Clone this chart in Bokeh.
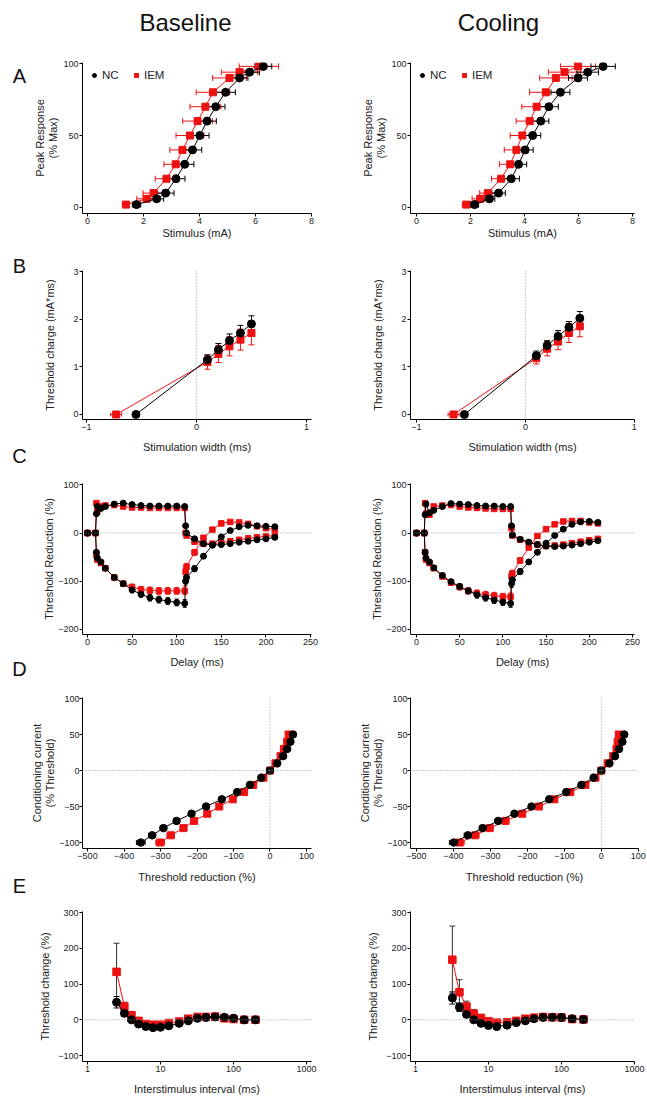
from bokeh.plotting import figure
from bokeh.models import (Range1d, FixedTicker, Span, Whisker, TeeHead, ColumnDataSource,
                          Legend, LegendItem)
from bokeh.layouts import column, row
from bokeh.embed import file_html
from bokeh.resources import INLINE
from bokeh.core.properties import value

FONT = "Liberation Sans"
RED = "#ee1111"
BLK = "#000000"
TXT = "#222222"

# ---------------- data ----------------
# A: stimulus-response
a_levels = [2, 6, 10, 20, 30, 40, 50, 60, 70, 80, 90, 94, 98]
a_base_nc_x = [1.75, 2.47, 2.79, 3.16, 3.47, 3.75, 4.01, 4.27, 4.58, 4.93, 5.43, 5.79, 6.28]
a_base_nc_err = [0.15, 0.25, 0.3, 0.32, 0.33, 0.33, 0.33, 0.33, 0.33, 0.35, 0.3, 0.35, 0.3]
a_base_iem_x = [1.37, 2.11, 2.36, 2.82, 3.15, 3.39, 3.66, 3.93, 4.21, 4.48, 5.07, 5.43, 6.12]
a_base_iem_err = [0.1, 0.35, 0.38, 0.4, 0.42, 0.45, 0.5, 0.53, 0.55, 0.6, 0.6, 0.65, 0.7]
a_cool_nc_x = [2.15, 2.70, 3.04, 3.51, 3.78, 4.02, 4.30, 4.60, 4.90, 5.33, 5.98, 6.34, 6.91]
a_cool_nc_err = [0.15, 0.2, 0.25, 0.3, 0.3, 0.3, 0.3, 0.3, 0.35, 0.35, 0.35, 0.4, 0.45]
a_cool_iem_x = [1.85, 2.36, 2.64, 3.13, 3.47, 3.70, 3.92, 4.19, 4.45, 4.79, 5.16, 5.48, 5.98]
a_cool_iem_err = [0.15, 0.3, 0.3, 0.35, 0.4, 0.45, 0.45, 0.5, 0.55, 0.6, 0.6, 0.6, 0.65]

# B: strength-duration (intercept first, then widths 0.1..0.5)
b_width = [0.1, 0.2, 0.3, 0.4, 0.5]
b_base_nc_icpt = -0.55
b_base_nc_q = [1.15, 1.36, 1.55, 1.71, 1.90]
b_base_nc_err = [0.10, 0.13, 0.14, 0.16, 0.17]
b_base_iem_icpt = -0.73
b_base_iem_q = [1.10, 1.27, 1.43, 1.57, 1.71]
b_base_iem_err = [0.15, 0.18, 0.20, 0.22, 0.25]
b_cool_nc_icpt = -0.56
b_cool_nc_q = [1.23, 1.45, 1.64, 1.83, 2.02]
b_cool_nc_err = [0.10, 0.10, 0.12, 0.12, 0.14]
b_cool_iem_icpt = -0.66
b_cool_iem_q = [1.18, 1.38, 1.53, 1.71, 1.85]
b_cool_iem_err = [0.12, 0.15, 0.17, 0.20, 0.22]
b_icpt_err = [0.05]

# C: threshold electrotonus
c_delay = [0, 9, 10, 11, 15, 20, 30, 40, 50, 60, 70, 80, 90, 100, 109, 110, 111,
           120, 130, 140, 150, 160, 170, 180, 190, 200, 210]
c_base_nc_ted = [0, 0, 40, 55, 51, 55, 60, 62, 59, 57, 56, 56, 56, 56, 55, 15, 0,
                 -12, -22, -25, -24, -22, -19, -17, -14, -12, -9]
c_base_nc_teh = [0, 0, -40, -52, -60, -73, -92, -105, -118, -127, -134, -138, -141, -144, -146, -100, -92,
                 -74, -48, -25, -8, 5, 13, 16, 15, 14, 13]
c_base_iem_ted = [0, 0, 62, 44, 55, 57, 58, 55, 53, 53, 52, 52, 52, 52, 52, 0, -5,
                  -18, -22, -22, -20, -17, -14, -11, -9, -7, -5]
c_base_iem_teh = [0, 0, -45, -55, -62, -73, -92, -105, -112, -117, -119, -120, -120, -120, -120, -80, -70,
                  -40, -10, 7, 20, 23, 22, 19, 14, 10, 7]
c_cool_nc_ted = [0, 0, 38, 60, 42, 47, 55, 61, 60, 59, 57, 56, 56, 55, 55, 15, -4,
                 -13, -19, -24, -27, -28, -27, -25, -22, -19, -16]
c_cool_nc_teh = [0, 0, -40, -52, -60, -72, -88, -101, -111, -120, -128, -134, -139, -143, -146, -105, -97,
                 -80, -60, -40, -21, -5, 8, 18, 23, 24, 22]
c_cool_iem_ted = [0, 0, 62, 40, 38, 55, 57, 58, 55, 53, 52, 51, 50, 50, 50, 10, -5,
                  -14, -20, -24, -27, -26, -24, -21, -18, -15, -12]
c_cool_iem_teh = [0, 0, -40, -55, -62, -73, -90, -103, -112, -120, -125, -128, -130, -132, -132, -90, -84,
                  -57, -30, -6, 8, 18, 24, 25, 25, 22, 20]
c_teh_err = [0, 0, 3, 3, 4, 4, 5, 5, 6, 6, 7, 7, 7, 7, 8, 8, 7,
             6, 5, 4, 3, 3, 3, 3, 3, 3, 3]

# D: current-threshold relationship
d_current = [50, 40, 30, 20, 10, 0, -10, -20, -30, -40, -50, -60, -70, -80, -90, -100]
d_base_nc = [63, 56, 47, 36, 20, 0, -24, -55, -90, -132, -175, -215, -256, -292, -323, -354]
d_base_iem = [51, 47, 38, 29, 15, 0, -18, -46, -71, -102, -139, -172, -208, -237, -272, -301]
d_cool_nc = [62, 57, 48, 37, 22, 0, -21, -54, -95, -141, -189, -235, -279, -321, -361, -399]
d_cool_iem = [47, 44, 41, 32, 17, 0, -16, -43, -84, -127, -169, -214, -259, -302, -341, -383]
d_err = [2, 2, 2, 2, 2, 0, 2, 3, 4, 5, 6, 7, 8, 9, 10, 12]

# E: recovery cycle
e_base_isi = [2.5, 3.2, 4, 5, 6.3, 7.9, 10, 13, 18, 24, 32, 42, 56, 75, 100, 140, 200]
e_base_nc = [49, 18, 0, -12, -19, -22, -21, -17, -10, -3, 4, 6.5, 8, 7, 4, 0, 0]
e_base_nc_err = [16, 8, 5, 4, 4, 4, 4, 4, 4, 3, 3, 3, 3, 3, 3, 2, 2]
e_base_iem = [134, 37, 13, -3, -12, -14, -14, -9, -5, 3, 8, 8, 9, 4, 2, 0, 0]
e_base_iem_err = [80, 12, 6, 5, 4, 4, 4, 4, 4, 3, 3, 3, 3, 3, 3, 2, 2]
e_cool_isi = [3.2, 4, 5, 6.3, 7.9, 10, 13, 18, 24, 32, 42, 56, 75, 100, 140, 200]
e_cool_nc = [61, 35, 15, 0, -10, -16, -19, -15, -8, -3, 3, 6.5, 7, 6.5, 3, 1]
e_cool_nc_err = [17, 12, 8, 6, 5, 4, 4, 4, 3, 3, 3, 3, 3, 3, 2, 2]
e_cool_iem = [168, 77, 37, 17, 5, -4, -8, -7, -3, 3, 6, 8, 7, 6.5, 2, 1]
e_cool_iem_err = [94, 35, 15, 12, 10, 6, 5, 4, 3, 3, 3, 3, 3, 3, 2, 2]

# tick labels / texts
a_xticks = [0, 2, 4, 6, 8]
a_yticks = [0, 50, 100]
b_xticks = [-1, 0, 1]
b_yticks = [0, 1, 2, 3]
c_xticks = [0, 50, 100, 150, 200, 250]
c_yticks = [-200, -100, 0, 100]
d_xticks = [-500, -400, -300, -200, -100, 0, 100]
d_yticks = [-100, -50, 0, 50, 100]
e_xticks = [1, 10, 100, 1000]
e_yticks = [-100, 0, 100, 200, 300]
headers = ["Baseline", "Cooling"]
panel_letters = ["A", "B", "C", "D", "E"]

LET_W = 28


# ---------------- helpers ----------------
def make_fig(side, xr, yr, mbt, fh, mbb, xlog=False, mbr=None):
    if side == "L":
        mbl, r = 82 - LET_W, 20
        w = 331 - LET_W
    else:
        mbl, r = 79, 13
        w = 316
    p = figure(width=w, height=mbt + fh + mbb, x_range=Range1d(*xr), y_range=Range1d(*yr),
               x_axis_type="log" if xlog else "linear",
               output_backend="svg", toolbar_location=None,
               min_border_left=mbl, min_border_right=(mbr if mbr is not None else r),
               min_border_top=mbt, min_border_bottom=mbb)
    p.outline_line_color = None
    p.grid.visible = False
    p.background_fill_color = "white"
    p.border_fill_color = "white"
    for ax in (p.xaxis[0], p.yaxis[0]):
        ax.axis_line_color = BLK
        ax.axis_line_width = 1
        ax.major_tick_line_color = BLK
        ax.major_tick_out = 3
        ax.major_tick_in = 0
        ax.minor_tick_line_color = None
        ax.major_label_text_font = FONT
        ax.major_label_text_font_size = "9px"
        ax.major_label_text_color = TXT
        ax.major_label_standoff = 1
        ax.axis_label_text_font = FONT
        ax.axis_label_text_font_size = "11px"
        ax.axis_label_text_font_style = "normal"
        ax.axis_label_text_color = TXT
        ax.axis_label_text_line_height = 1.1
    return p


def blank_fig(w, h, xr, yr):
    p = figure(width=w, height=h, x_range=Range1d(*xr), y_range=Range1d(*yr),
               x_axis_location=None, y_axis_location=None,
               output_backend="svg", toolbar_location=None,
               min_border_left=0, min_border_right=0, min_border_top=0, min_border_bottom=0)
    p.outline_line_color = None
    p.grid.visible = False
    p.background_fill_color = "white"
    p.border_fill_color = "white"
    return p


def setup_axes(p, xticks, yticks, xlabel, ylabel, xls, yls, overrides=False):
    p.xaxis.ticker = FixedTicker(ticks=xticks)
    p.yaxis.ticker = FixedTicker(ticks=yticks)
    if overrides:
        p.xaxis.major_label_overrides = {t: str(t) for t in xticks}
    p.xaxis.axis_label = xlabel
    p.yaxis.axis_label = ylabel
    p.xaxis.axis_label_standoff = xls
    p.yaxis.axis_label_standoff = yls


def whisk(p, base, center, err, color, dim, cap):
    src = ColumnDataSource(dict(b=base, lo=[c - e for c, e in zip(center, err)],
                                hi=[c + e for c, e in zip(center, err)]))
    w = Whisker(source=src, base="b", lower="lo", upper="hi", dimension=dim,
                line_color=color, line_width=1, level="underlay",
                upper_head=TeeHead(size=cap, line_color=color, line_width=1),
                lower_head=TeeHead(size=cap, line_color=color, line_width=1))
    p.add_layout(w)


def series(p, x, y, color, marker, size, xerr=None, yerr=None, ecolor=None, cap=6, line=True):
    ec = ecolor or color
    if yerr is not None:
        whisk(p, x, y, yerr, ec, "height", cap)
    if xerr is not None:
        whisk(p, y, x, xerr, ec, "width", cap)
    if line:
        p.line(x, y, line_color=color, line_width=1)
    return p.scatter(x, y, marker=marker, size=size, fill_color=color, line_color=color)


def zero_line(p, dim):
    p.add_layout(Span(location=0, dimension=dim, line_color="#999999",
                      line_dash="1 2", line_width=1))


def add_legend(p, r_nc, r_iem):
    leg = Legend(items=[LegendItem(label="NC", renderers=[r_nc]),
                        LegendItem(label="IEM", renderers=[r_iem])],
                 location="top_left", orientation="horizontal",
                 border_line_color=None, background_fill_alpha=0,
                 label_text_font=FONT, label_text_font_size="11.5px", label_text_color=TXT,
                 glyph_width=10, glyph_height=10, label_height=10, label_standoff=3,
                 spacing=9, padding=3, margin=7)
    p.add_layout(leg)


# ---------------- header & letters ----------------
hdr = blank_fig(647 - LET_W, 48, (LET_W, 647), (48, 0))
hdr.text(x=[185, 498], y=[22, 22], text=headers, text_font=value(FONT),
         text_font_size=value("24px"), text_align="center", text_baseline="middle",
         text_color="#111111")

let = blank_fig(LET_W, 1097, (0, LET_W), (1097, 0))
let.text(x=[19] * 5, y=[75, 265, 455, 668, 885], text=panel_letters, text_font=value(FONT),
         text_font_size=value("20px"), text_align="center", text_baseline="middle",
         text_color="#111111")

# ---------------- row A ----------------
A_Y = (-4.17, 100.7)
aL = make_fig("L", (-0.18, 8.0), A_Y, 14, 151, 37)
aR = make_fig("R", (-0.22, 8.07), A_Y, 14, 151, 37)
for p, ix, ie, nx, ne in ((aL, a_base_iem_x, a_base_iem_err, a_base_nc_x, a_base_nc_err),
                          (aR, a_cool_iem_x, a_cool_iem_err, a_cool_nc_x, a_cool_nc_err)):
    ri = series(p, ix, a_levels, RED, "square", 7, xerr=ie)
    rn = series(p, nx, a_levels, BLK, "circle", 8, xerr=ne)
    setup_axes(p, a_xticks, a_yticks, "Stimulus (mA)", "Peak Response\n(% Max)", 0, 1)
    add_legend(p, rn, ri)

# ---------------- row B ----------------
B_Y = (-0.105, 3.021)
bL = make_fig("L", (-1.036, 1.046), B_Y, 20, 149, 46)
bR = make_fig("R", (-1.055, 1.002), B_Y, 20, 149, 46)
for p, iicp, iq, ie, nicp, nq, ne in (
        (bL, b_base_iem_icpt, b_base_iem_q, b_base_iem_err, b_base_nc_icpt, b_base_nc_q, b_base_nc_err),
        (bR, b_cool_iem_icpt, b_cool_iem_q, b_cool_iem_err, b_cool_nc_icpt, b_cool_nc_q, b_cool_nc_err)):
    zero_line(p, "height")
    whisk(p, [0], [iicp], b_icpt_err, RED, "width", 4)
    series(p, [iicp] + b_width, [0] + iq, RED, "square", 7, yerr=[0] + ie)
    series(p, [nicp] + b_width, [0] + nq, BLK, "circle", 8, yerr=[0] + ne)
    setup_axes(p, b_xticks, b_yticks, "Stimulation width (ms)", "Threshold charge (mA*ms)", 8, 14)

# ---------------- row C ----------------
C_Y = (-210.4, 102.7)
cL = make_fig("L", (-5.6, 251.1), C_Y, 18, 151, 46)
cR = make_fig("R", (-6.9, 252.4), C_Y, 18, 151, 46)
for p, ited, iteh, nted, nteh in (
        (cL, c_base_iem_ted, c_base_iem_teh, c_base_nc_ted, c_base_nc_teh),
        (cR, c_cool_iem_ted, c_cool_iem_teh, c_cool_nc_ted, c_cool_nc_teh)):
    zero_line(p, "width")
    series(p, c_delay, ited, RED, "square", 5.5)
    series(p, c_delay, iteh, RED, "square", 5.5, yerr=c_teh_err, cap=4)
    series(p, c_delay, nted, BLK, "circle", 6)
    series(p, c_delay, nteh, BLK, "circle", 6, yerr=c_teh_err, cap=4)
    setup_axes(p, c_xticks, c_yticks, "Delay (ms)", "Threshold Reduction (%)", 8, 0)

# ---------------- row D ----------------
D_Y = (-108.3, 101.4)
dL = make_fig("L", (-513.7, 113.7), D_Y, 17, 151, 47)
dR = make_fig("R", (-516.2, 100.5), D_Y, 17, 151, 47, mbr=9)
for p, ix, nx in ((dL, d_base_iem, d_base_nc), (dR, d_cool_iem, d_cool_nc)):
    zero_line(p, "width")
    zero_line(p, "height")
    series(p, ix, d_current, RED, "square", 7, xerr=d_err, cap=5)
    series(p, nx, d_current, BLK, "circle", 7.5, xerr=d_err, cap=5)
    setup_axes(p, d_xticks, d_yticks, "Threshold reduction (%)",
               "Conditioning current\n(% Threshold)", 9, 0)
    p.yaxis.major_label_standoff = 0

# ---------------- row E ----------------
E_Y = (-116.7, 302.8)
eL = make_fig("L", (0.854, 1171.0), E_Y, 16, 151, 35, xlog=True)
eR = make_fig("R", (0.855, 1000.0), E_Y, 16, 151, 35, xlog=True)
for p, xs, iy, ie, ny, ne in ((eL, e_base_isi, e_base_iem, e_base_iem_err, e_base_nc, e_base_nc_err),
                              (eR, e_cool_isi, e_cool_iem, e_cool_iem_err, e_cool_nc, e_cool_nc_err)):
    zero_line(p, "width")
    series(p, xs, iy, RED, "square", 7.5, yerr=ie, ecolor="#333333", cap=6)
    series(p, xs, ny, BLK, "circle", 8, yerr=ne, cap=6)
    setup_axes(p, e_xticks, e_yticks, "Interstimulus interval (ms)", "Threshold change (%)",
               8, 4, overrides=True)

main = column(hdr, row(aL, aR), row(bL, bR), row(cL, cR), row(dL, dR), row(eL, eR))
layout = row(let, main)
open("out.html", "w").write(file_html(layout, INLINE))
